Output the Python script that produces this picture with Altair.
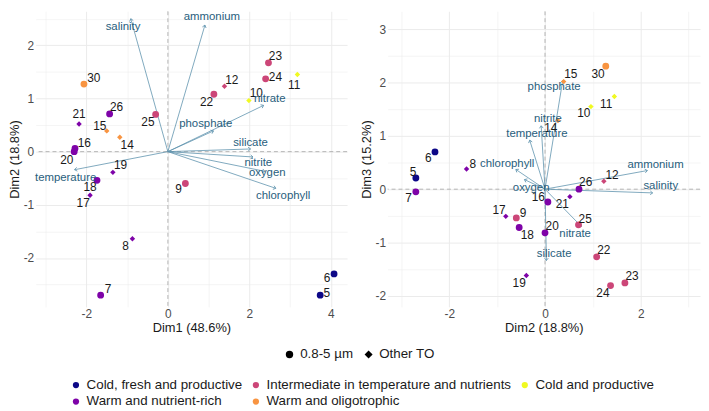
import math
import altair as alt
import pandas as pd

# ---------------- data ----------------
samples = ["5", "6", "7", "8", "9", "10", "11", "12", "14", "15", "16",
           "17", "18", "19", "20", "21", "22", "23", "24", "25", "26", "30"]
dim1 = [3.74, 4.08, -1.65, -0.87, 0.43, 1.99, 3.18, 1.39, -1.18, -1.50, -2.28,
        -1.91, -1.74, -1.35, -2.30, -2.18, 1.13, 2.47, 2.40, -0.30, -1.43, -2.06]
dim2 = [-2.70, -2.30, -2.70, -1.64, -0.60, 0.96, 1.45, 1.23, 0.27, 0.39, 0.06,
        -0.82, -0.54, -0.39, 0.00, 0.52, 1.08, 1.67, 1.37, 0.70, 0.71, 1.27]
dim3 = [0.21, 0.70, -0.05, 0.38, -0.54, 1.55, 1.74, 0.15, 1.29, 2.02, -0.24,
        -0.51, -0.72, -1.62, -0.82, -0.14, -1.27, -1.76, -1.81, -0.67, 0.00, 2.31]
fraction = ["0.8-5 µm", "0.8-5 µm", "0.8-5 µm", "Other TO", "0.8-5 µm", "Other TO",
            "Other TO", "Other TO", "Other TO", "Other TO", "0.8-5 µm", "Other TO",
            "0.8-5 µm", "Other TO", "0.8-5 µm", "Other TO", "0.8-5 µm", "0.8-5 µm",
            "0.8-5 µm", "0.8-5 µm", "0.8-5 µm", "0.8-5 µm"]
fraction_order = ["0.8-5 µm", "Other TO"]
CF, IN, CP, WN, WO = ("Cold, fresh and productive",
                      "Intermediate in temperature and nutrients",
                      "Cold and productive", "Warm and nutrient-rich",
                      "Warm and oligotrophic")
cluster = [CF, CF, WN, WN, IN, CP, CP, IN, WO, WO, WN,
           WN, WN, WN, WN, WN, IN, IN, IN, IN, WN, WO]
cluster_order = [CF, IN, CP, WN, WO]
cluster_colors = ["#0D0887", "#CC4678", "#F0F921", "#7E03A8", "#F89441"]

# label anchor positions (data units) for sample numbers
lab12_x = [3.90, 3.91, -1.47, -1.04, 0.26, 2.17, 3.10, 1.57, -1.00, -1.67, -2.05,
           -2.08, -1.91, -1.16, -2.48, -2.18, 0.95, 2.64, 2.64, -0.49, -1.26, -1.82]
lab12_y = [-2.66, -2.38, -2.58, -1.77, -0.71, 1.10, 1.26, 1.35, 0.12, 0.49, 0.17,
           -0.97, -0.67, -0.26, -0.15, 0.71, 0.93, 1.80, 1.40, 0.55, 0.83, 1.38]
lab23_x = [-2.76, -2.44, -2.85, -1.51, -0.46, 0.81, 1.28, 1.40, 0.12, 0.54, -0.14,
           -0.96, -0.37, -0.54, 0.15, 0.36, 1.23, 1.82, 1.21, 0.84, 0.85, 1.11]
lab23_y = [0.33, 0.59, -0.17, 0.48, -0.44, 1.42, 1.60, 0.27, 1.14, 2.16, -0.15,
           -0.40, -0.86, -1.76, -0.69, -0.28, -1.14, -1.63, -1.95, -0.56, 0.14, 2.16]

variables = ["salinity", "ammonium", "nitrate", "phosphate", "silicate",
             "nitrite", "oxygen", "chlorophyll", "temperature"]
v12_x = [-0.91, 0.91, 2.35, 1.12, 2.03, 2.09, 2.38, 2.65, -2.29]
v12_y = [2.50, 2.38, 0.87, 0.39, 0.05, -0.10, -0.37, -0.69, -0.34]
v12_lx = [-1.10, 1.08, 2.50, 0.93, 2.03, 2.22, 2.44, 2.83, -2.51]
v12_ly = [2.35, 2.53, 0.99, 0.52, 0.17, -0.22, -0.40, -0.84, -0.50]
v23_x = [2.25, 2.14, 0.76, 0.37, 0.03, -0.08, -0.43, -0.61, -0.32]
v23_y = [-0.07, 0.35, -0.70, 2.04, -1.34, 1.19, 0.18, 0.37, 0.92]
v23_lx = [2.42, 2.31, 0.63, 0.19, 0.19, 0.06, -0.29, -0.79, -0.17]
v23_ly = [0.06, 0.46, -0.85, 1.91, -1.21, 1.32, 0.02, 0.47, 1.03]

# ---------------- styling ----------------
FONT = "Liberation Sans"
VAR_LINE = "#5F93AE"
VAR_TEXT = "#285E7D"
W1, W2, H = 315, 316, 299

pts = pd.DataFrame({"s": samples, "d1": dim1, "d2": dim2, "d3": dim3,
                    "frac": fraction, "cluster": cluster,
                    "l12x": lab12_x, "l12y": lab12_y,
                    "l23x": lab23_x, "l23y": lab23_y})


def arrow_df(vx, vy, lx, ly, xdom, ydom, w, h):
    sx = w / (xdom[1] - xdom[0])
    sy = h / (ydom[1] - ydom[0])
    ang = [math.degrees(math.atan2(a * sx, b * sy)) % 360 for a, b in zip(vx, vy)]
    return pd.DataFrame({"var": variables, "x0": 0.0, "y0": 0.0, "tx": vx, "ty": vy,
                         "lx": lx, "ly": ly, "ang": ang})


def label_expr(mod):
    return f"datum.value % {mod} === 0 ? '' + datum.value : ''"


color_enc = alt.Color(
    "cluster:N", scale=alt.Scale(domain=cluster_order, range=cluster_colors),
    legend=alt.Legend(orient="none", legendX=34, legendY=371, columns=3,
                      direction="horizontal", title=None, symbolType="circle",
                      symbolSize=40, labelFontSize=13.5, labelFont=FONT,
                      labelColor="#1a1a1a", labelLimit=0, columnPadding=6,
                      rowPadding=2, symbolStrokeWidth=0))
shape_enc = alt.Shape(
    "frac:N", scale=alt.Scale(domain=fraction_order, range=["circle", "diamond"]),
    legend=alt.Legend(orient="none", legendX=250, legendY=340,
                      direction="horizontal", title=None,
                      symbolFillColor="black", symbolStrokeColor="black",
                      symbolSize=36, labelFontSize=13.5, labelFont=FONT,
                      labelColor="#1a1a1a", columnPadding=8, labelLimit=0))


def panel(xcol, ycol, lxcol, lycol, adf, xdom, ydom, xvals, xmod, yvals,
          xtitle, ytitle, w):
    xs = alt.Scale(domain=xdom, nice=False, zero=False)
    ys = alt.Scale(domain=ydom, nice=False, zero=False)
    gwx = {"condition": {"test": f"datum.value % {xmod} !== 0", "value": 0.5},
           "value": 1}
    xax = alt.Axis(values=xvals, labelExpr=label_expr(xmod), title=xtitle,
                   gridWidth=gwx)
    gwy = {"condition": {"test": "datum.value % 1 !== 0", "value": 0.5}, "value": 1}
    yax = alt.Axis(values=yvals, labelExpr=label_expr(1), title=ytitle,
                   gridWidth=gwy)

    zero = pd.DataFrame({"z": [0.0]})
    vline = alt.Chart(zero).mark_rule(color="#8a8a8a", strokeDash=[4, 3],
                                      strokeWidth=0.6).encode(
        x=alt.X("z:Q", scale=xs, axis=xax))
    hline = alt.Chart(zero).mark_rule(color="#8a8a8a", strokeDash=[4, 3],
                                      strokeWidth=0.6).encode(
        y=alt.Y("z:Q", scale=ys, axis=yax))

    base_a = alt.Chart(adf)
    rules = base_a.mark_rule(color=VAR_LINE, strokeWidth=0.8).encode(
        x=alt.X("x0:Q", scale=xs, axis=xax), y=alt.Y("y0:Q", scale=ys, axis=yax),
        x2="tx:Q", y2="ty:Q")
    heads = base_a.mark_point(shape="M-0.7,0.9L0,0L0.7,0.9", filled=False,
                              color=VAR_LINE, strokeWidth=0.8, size=30,
                              opacity=1).encode(
        x=alt.X("tx:Q", scale=xs, axis=xax), y=alt.Y("ty:Q", scale=ys, axis=yax),
        angle=alt.Angle("ang:Q", scale=None))
    vlabels = base_a.mark_text(color=VAR_TEXT, fontSize=11.5, font=FONT).encode(
        x=alt.X("lx:Q", scale=xs, axis=xax), y=alt.Y("ly:Q", scale=ys, axis=yax),
        text="var:N")

    base_p = alt.Chart(pts)
    enc = dict(x=alt.X(f"{xcol}:Q", scale=xs, axis=xax),
               y=alt.Y(f"{ycol}:Q", scale=ys, axis=yax),
               color=color_enc, shape=shape_enc)
    circles = base_p.transform_filter(
        alt.datum.frac == fraction_order[0]).mark_point(
        filled=True, opacity=1, size=48).encode(**enc)
    diamonds = base_p.transform_filter(
        alt.datum.frac == fraction_order[1]).mark_point(
        filled=True, opacity=1, size=30).encode(**enc)
    plabels = base_p.mark_text(color="#1a1a1a", fontSize=12, font=FONT).encode(
        x=alt.X(f"{lxcol}:Q", scale=xs, axis=xax),
        y=alt.Y(f"{lycol}:Q", scale=ys, axis=yax),
        text="s:N")

    return alt.layer(vline, hline, rules, heads, circles, diamonds, plabels,
                     vlabels).properties(width=w, height=H)


xdom1, ydom1 = [-3.245, 4.40], [-2.92, 2.64]
xdom2, ydom2 = [-3.29, 3.24], [-2.21, 3.34]

a12 = arrow_df(v12_x, v12_y, v12_lx, v12_ly, xdom1, ydom1, W1, H)
a23 = arrow_df(v23_x, v23_y, v23_lx, v23_ly, xdom2, ydom2, W2, H)

left = panel("d1", "d2", "l12x", "l12y", a12, xdom1, ydom1,
             [-3, -2, -1, 0, 1, 2, 3, 4], 2,
             [-2.5, -2, -1.5, -1, -0.5, 0, 0.5, 1, 1.5, 2, 2.5],
             "Dim1 (48.6%)", "Dim2 (18.8%)", W1)
right = panel("d2", "d3", "l23x", "l23y", a23, xdom2, ydom2,
              [-3, -2, -1, 0, 1, 2, 3], 2,
              [-2, -1.5, -1, -0.5, 0, 0.5, 1, 1.5, 2, 2.5, 3],
              "Dim2 (18.8%)", "Dim3 (15.2%)", W2)

chart = alt.hconcat(left, right, spacing=12).resolve_scale(
    x="independent", y="independent").properties(
    padding={"left": 0, "top": 0, "right": 0, "bottom": 0}
).configure_view(stroke=None).configure_axis(
    domain=False, ticks=False, gridColor="#EBEBEB",
    labelFont=FONT, titleFont=FONT, labelFontSize=12, titleFontSize=13,
    labelColor="#4D4D4D", titleColor="#1a1a1a", titleFontWeight="normal",
    labelPadding=2, titlePadding=2
).configure_text(font=FONT)

chart.save("out.html", embed_options={"renderer": "svg", "actions": False})
